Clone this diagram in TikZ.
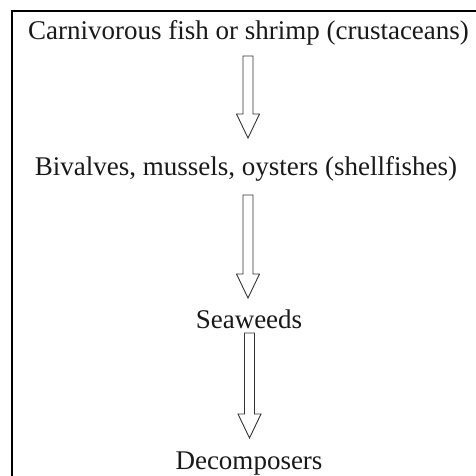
\documentclass[tikz,border=0pt]{standalone}
\usepackage{fontspec}
\setmainfont{Liberation Serif}
\usetikzlibrary{calc}
\tikzset{
  label/.style={anchor=base, inner sep=0pt, font=\fontsize{27}{32}\selectfont, text=black!90},
  hollow/.style={draw=black!80, line width=0.9pt, fill=white, line join=miter},
  frame/.style={draw=black, line width=2pt}
}
\newcommand\hollowarrow[2]{%
  \draw[hollow] let \p1=(#1), \p2=(#2) in
    (\x1-5pt,\y1) -- (\x1-5pt,\y2+24pt) -- (\x1-11.5pt,\y2+24pt) -- (\x2,\y2)
    -- (\x1+11.5pt,\y2+24pt) -- (\x1+5pt,\y2+24pt) -- (\x1+5pt,\y1) -- cycle;}
\begin{document}
\begin{tikzpicture}[x=1pt,y=-1pt]
\useasboundingbox (0,0) rectangle (476,476);
\draw[frame] (11.5,480) -- (11.5,11.5) -- (480,11.5);
\node[label] (carn) at (248.5,40) {Carnivorous fish or shrimp (crustaceans)};
\node[label] (biv) at (246,175) {Bivalves, mussels, oysters (shellfishes)};
\node[label] (sea) at (249,328) {Seaweeds};
\node[label] (dec) at (249,469) {Decomposers};
\coordinate (a1s) at (248,56);
\coordinate (a1e) at (248,138);
\coordinate (a2s) at (248,195);
\coordinate (a2e) at (248,298);
\coordinate (a3s) at (249.5,333);
\coordinate (a3e) at (249.5,438);
\hollowarrow{a1s}{a1e}
\hollowarrow{a2s}{a2e}
\hollowarrow{a3s}{a3e}
\end{tikzpicture}
\end{document}
